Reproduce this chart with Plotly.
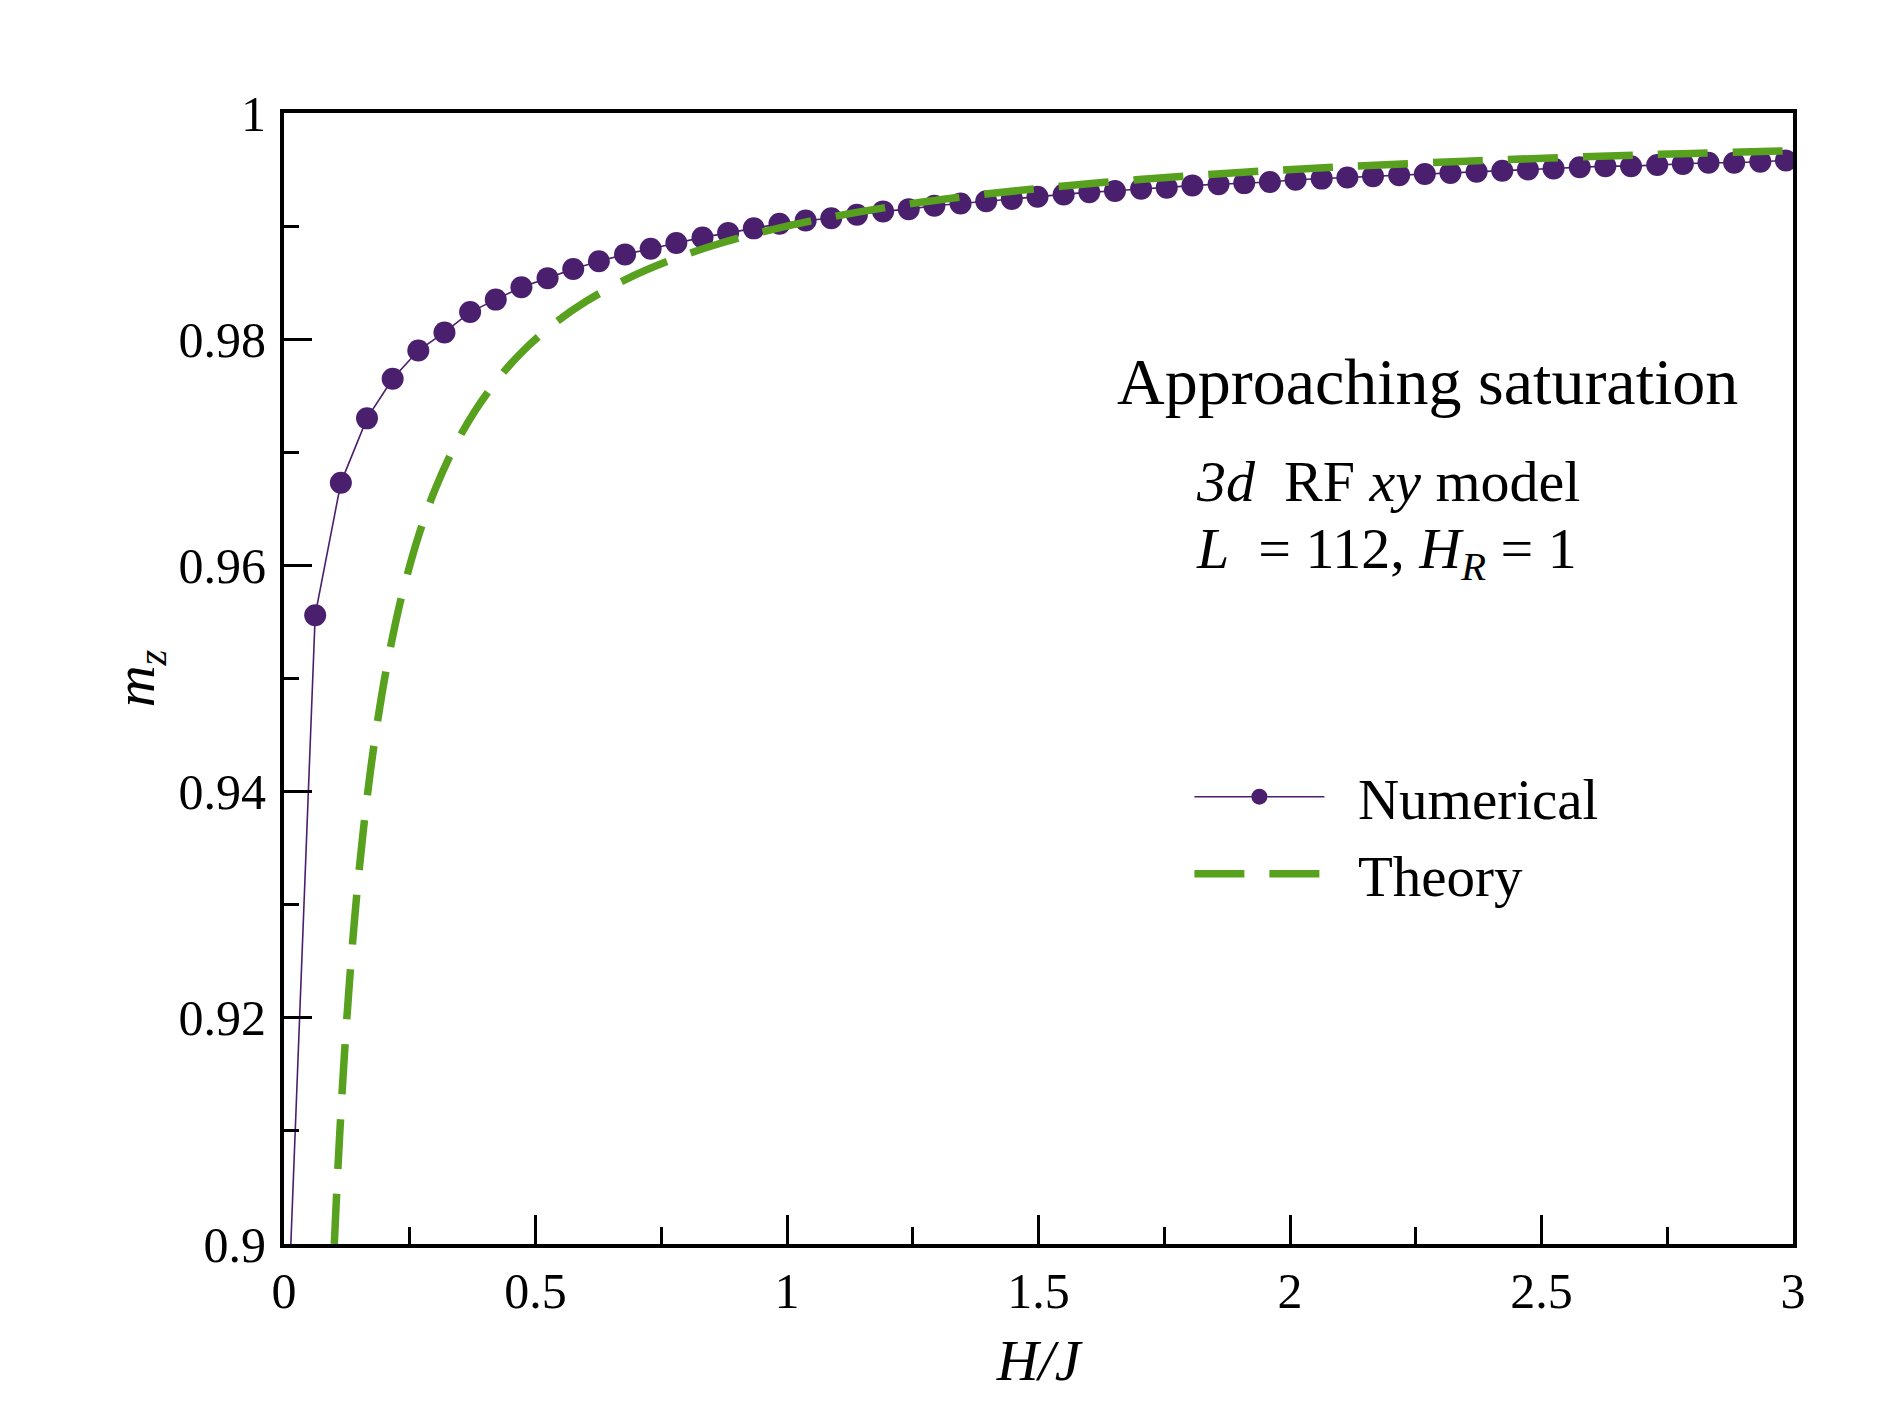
import plotly.graph_objects as go

# ---- data ----
num_h = [0.011, 0.062, 0.113, 0.165, 0.216, 0.267, 0.319, 0.370, 0.421, 0.472, 0.524,
         0.575, 0.626, 0.678, 0.729, 0.780, 0.832, 0.883, 0.934, 0.985, 1.037,
         1.088, 1.139, 1.191, 1.242, 1.293, 1.345, 1.396, 1.447, 1.498, 1.550,
         1.601, 1.652, 1.704, 1.755, 1.806, 1.858, 1.909, 1.960, 2.011, 2.063,
         2.114, 2.165, 2.217, 2.268, 2.319, 2.371, 2.422, 2.473, 2.524, 2.576,
         2.627, 2.678, 2.730, 2.781, 2.832, 2.883, 2.935, 2.986]
num_mz = [0.8970, 0.9556, 0.9673, 0.9730, 0.9765, 0.9790, 0.9806, 0.9824, 0.9835, 0.9846, 0.9854,
          0.9862, 0.9869, 0.9875, 0.9880, 0.9885, 0.9890, 0.9894, 0.9898, 0.9902, 0.9905,
          0.9907, 0.9910, 0.9913, 0.9915, 0.9918, 0.9920, 0.9922, 0.9924, 0.9926, 0.9928,
          0.9930, 0.9931, 0.9933, 0.9934, 0.9936, 0.9937, 0.9938, 0.9939, 0.9941, 0.9942,
          0.9943, 0.9944, 0.9945, 0.9946, 0.9947, 0.9948, 0.9949, 0.9950, 0.9951, 0.9952,
          0.9953, 0.9953, 0.9954, 0.9955, 0.9956, 0.9956, 0.9957, 0.9958]

theory_h = [0.100, 0.105, 0.110, 0.120, 0.130, 0.140, 0.150, 0.165, 0.180, 0.200,
            0.220, 0.240, 0.270, 0.300, 0.340, 0.380, 0.430, 0.480, 0.540, 0.600,
            0.680, 0.760, 0.850, 0.950, 1.050, 1.200, 1.350, 1.500, 1.700, 1.900,
            2.100, 2.350, 2.600, 2.800, 3.000]
theory_mz = [0.90000, 0.90476, 0.90909, 0.91667, 0.92308, 0.92857, 0.93333, 0.93939, 0.94444, 0.95000,
             0.95455, 0.95833, 0.96296, 0.96667, 0.97059, 0.97368, 0.97674, 0.97917, 0.98148, 0.98333,
             0.98529, 0.98684, 0.98824, 0.98947, 0.99048, 0.99167, 0.99259, 0.99333, 0.99412, 0.99474,
             0.99524, 0.99574, 0.99615, 0.99643, 0.99667]

x_tickvals = [0, 0.5, 1, 1.5, 2, 2.5, 3]
x_ticktext = ["0", "0.5", "1", "1.5", "2", "2.5", "3"]
y_tickvals = [0.9, 0.92, 0.94, 0.96, 0.98, 1.0]
y_ticktext = ["0.9", "0.92", "0.94", "0.96", "0.98", "1"]

PURPLE = "#4a1f6e"
GREEN = "#58a11f"
FONT = "Liberation Serif"

fig = go.Figure()
fig.add_trace(go.Scatter(
    x=num_h, y=num_mz, mode="lines+markers", name="&nbsp;&nbsp;Numerical",
    line=dict(color=PURPLE, width=1.6),
    marker=dict(color=PURPLE, size=22),
))
fig.add_trace(go.Scatter(
    x=theory_h, y=theory_mz, mode="lines", name="&nbsp;&nbsp;Theory",
    line=dict(color=GREEN, width=7.5, dash="50px,25px", shape="spline"),
))

axis_common = dict(
    showline=True, linecolor="black", linewidth=4, mirror=True,
    ticks="inside", tickcolor="black", tickwidth=3,
    showgrid=False, zeroline=False,
    tickfont=dict(family=FONT, size=50, color="black"),
    tickmode="array",
)
fig.update_xaxes(
    range=[0, 3], tickvals=x_tickvals, ticktext=x_ticktext, ticklen=29,
    minor=dict(tickmode="linear", tick0=0, dtick=0.25, ticks="inside", ticklen=17,
               tickwidth=3, tickcolor="black", showgrid=False),
    title=dict(text="<i>H/J</i>", font=dict(family=FONT, size=58, color="black"), standoff=22),
    ticklabelstandoff=0,
    **axis_common,
)
fig.update_yaxes(
    range=[0.9, 1.0], tickvals=y_tickvals, ticktext=y_ticktext, ticklen=28,
    minor=dict(tickmode="linear", tick0=0.9, dtick=0.01, ticks="inside", ticklen=15,
               tickwidth=3, tickcolor="black", showgrid=False),
    title=dict(text="<i>m</i><sub><i>z</i></sub>", font=dict(family=FONT, size=58, color="black"), standoff=6),
    ticklabelstandoff=4,
    **axis_common,
)

fig.add_annotation(x=2.274, y=0.9763, xref="x", yref="y", text="Approaching saturation",
                   showarrow=False, xanchor="center", yanchor="middle",
                   font=dict(family=FONT, size=66, color="black"))
fig.add_annotation(x=1.809, y=0.9674, xref="x", yref="y", text="<i>3d</i>  RF <i>xy</i> model",
                   showarrow=False, xanchor="left", yanchor="middle",
                   font=dict(family=FONT, size=58, color="black"))
fig.add_annotation(x=1.809, y=0.9611, xref="x", yref="y",
                   text="<i>L</i>  = 112, <i>H</i><sub><i>R</i></sub> = 1",
                   showarrow=False, xanchor="left", yanchor="middle",
                   font=dict(family=FONT, size=58, color="black"))

fig.update_layout(
    width=1889, height=1417,
    margin=dict(l=284, r=96, t=113, b=173),
    paper_bgcolor="white", plot_bgcolor="white",
    showlegend=True,
    legend=dict(x=0.60, y=0.434, xanchor="left", yanchor="top",
                font=dict(family=FONT, size=57, color="black"),
                bgcolor="rgba(0,0,0,0)", itemwidth=130),
)

fig.write_html("out.html", config={"displayModeBar": False},
               post_script="document.body.style.margin='0';")
